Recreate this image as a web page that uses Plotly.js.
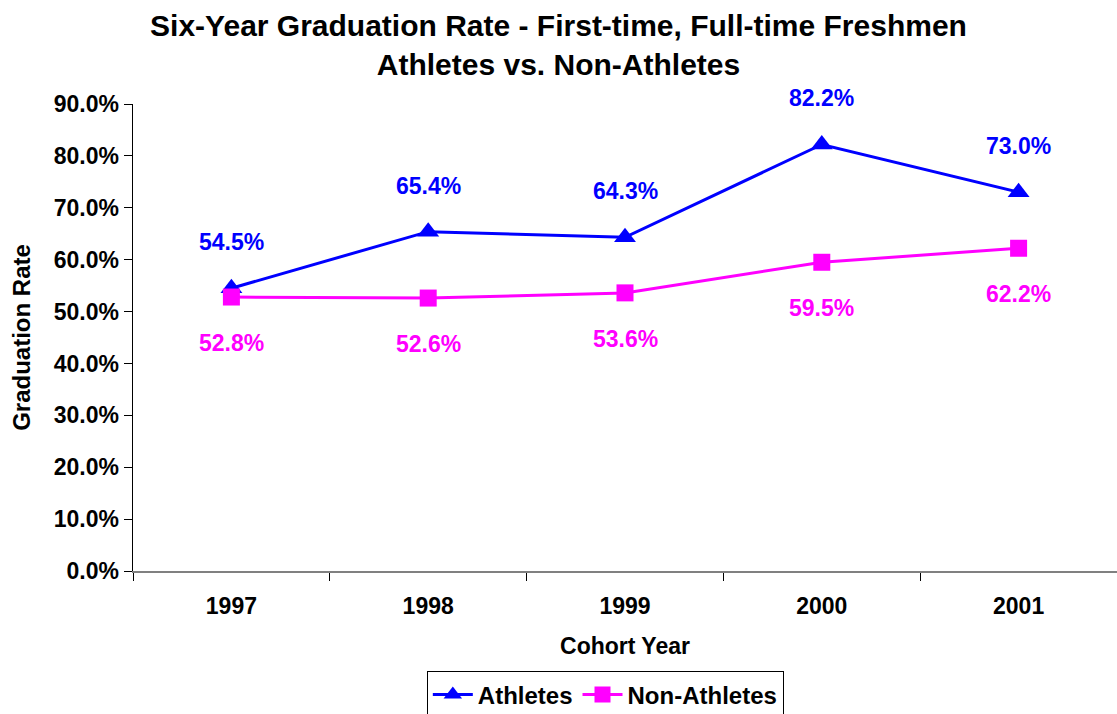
<!DOCTYPE html>
<html><head><meta charset="utf-8">
<script src="https://cdn.plot.ly/plotly-3.0.1.min.js"></script>
<style>html,body{margin:0;padding:0;background:#fff}#chart{width:1117px;height:714px}</style>
</head><body><div id="chart"></div>
<script>
const years = ['1997','1998','1999','2000','2001'];
const athletes = [54.5, 65.4, 64.3, 82.2, 73.0];
const nonAthletes = [52.8, 52.6, 53.6, 59.5, 62.2];
const yTicks = [0,10,20,30,40,50,60,70,80,90];

const F = 'Liberation Sans, Arial, sans-serif';
const blue = '#0000FF', pink = '#FF00FF';

const traces = [
  {x: years, y: athletes, name: 'Athletes', type: 'scatter', mode: 'lines+markers',
   line: {color: blue, width: 3}, marker: {symbol: 'triangle-up', size: 19, color: blue}},
  {x: years, y: nonAthletes, name: 'Non-Athletes', type: 'scatter', mode: 'lines+markers',
   line: {color: pink, width: 3}, marker: {symbol: 'square', size: 17, color: pink}}
];

const annotations = [];
years.forEach((yr, i) => {
  annotations.push({xref: 'x', yref: 'y', x: i, y: athletes[i], text: athletes[i].toFixed(1) + '%', showarrow: false,
    yshift: 46, font: {family: F, size: 23, color: blue, weight: 'bold'}});
  annotations.push({xref: 'x', yref: 'y', x: i, y: nonAthletes[i], text: nonAthletes[i].toFixed(1) + '%', showarrow: false,
    yshift: -46, font: {family: F, size: 23, color: pink, weight: 'bold'}});
});

const layout = {
  width: 1117, height: 714,
  margin: {l: 133, r: 0, t: 104, b: 143, autoexpand: false},
  paper_bgcolor: '#fff', plot_bgcolor: '#fff',
  showlegend: true,
  title: {text: 'Six-Year Graduation Rate - First-time, Full-time Freshmen<br>Athletes vs. Non-Athletes',
    font: {family: F, size: 30, color: '#000', weight: 'bold'}, x: 0.5, xanchor: 'center',
    yref: 'container', y: 1, yanchor: 'top', pad: {t: 36}},
  xaxis: {
    type: 'category', range: [-0.5, 4.5], tickson: 'boundaries', ticks: 'outside', ticklen: 8,
    tickcolor: '#000', showline: true, linecolor: '#808080', linewidth: 2, showgrid: false, zeroline: false,
    automargin: false,
    tickfont: {family: F, size: 23, color: '#000', weight: 'bold'}, ticklabelstandoff: 13,
    title: {text: 'Cohort Year', font: {family: F, size: 23, color: '#000', weight: 'bold'}, standoff: 20}
  },
  yaxis: {
    range: [0, 90], tickvals: yTicks, ticktext: yTicks.map(v => v.toFixed(1) + '%'),
    ticks: 'outside', ticklen: 8, tickcolor: '#000', showline: true, linecolor: '#000', linewidth: 1.5,
    showgrid: false, zeroline: false, automargin: false,
    tickfont: {family: F, size: 23, color: '#000', weight: 'bold'},
    title: {text: 'Graduation Rate', font: {family: F, size: 24, color: '#000', weight: 'bold'}, standoff: 16}
  },
  legend: {orientation: 'h', x: 0.48, xanchor: 'center', y: -0.215, yanchor: 'top',
    bordercolor: '#000', borderwidth: 1, bgcolor: '#fff',
    font: {family: F, size: 24, color: '#000', weight: 'bold'}, itemwidth: 40},
  annotations: annotations
};

Plotly.newPlot('chart', traces, layout, {displayModeBar: false, staticPlot: true});
</script></body></html>
